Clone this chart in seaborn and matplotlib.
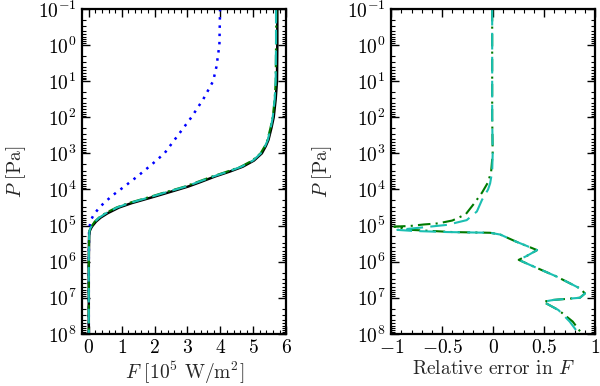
import numpy as np
import pandas as pd
import matplotlib
matplotlib.use("Agg")
import matplotlib.pyplot as plt
import matplotlib.ticker as mticker
import seaborn as sns

# ---- data (log10 P [Pa] and flux / relative error) ----
black_logp = [-1, 0, 1, 1.5, 2, 2.3, 2.63, 2.8, 3.0, 3.2, 3.37, 3.5, 3.64, 3.8, 3.92, 4.1, 4.2, 4.38, 4.5,
              4.66, 4.78, 4.89, 5.0, 5.07, 5.15, 5.3, 6, 7, 8]
black_f = [5.73, 5.73, 5.72, 5.68, 5.62, 5.55, 5.46, 5.38, 5.26, 5.02, 4.68, 4.30, 3.84, 3.38, 3.02, 2.36,
           1.99, 1.30, 0.92, 0.57, 0.36, 0.22, 0.12, 0.07, 0.03, 0.01, 0.0, 0.0, 0.0]

green_logp = [-1, 0, 1, 1.5, 2, 2.3, 2.63, 2.8, 3.0, 3.2, 3.37, 3.5, 3.64, 3.8, 3.92, 4.1, 4.2, 4.38, 4.5,
              4.66, 4.78, 4.89, 5.0, 5.07, 5.15, 5.3, 6, 7, 8]
green_f = [5.70, 5.69, 5.68, 5.65, 5.59, 5.52, 5.43, 5.35, 5.22, 4.97, 4.62, 4.22, 3.76, 3.28, 2.92, 2.24,
           1.88, 1.20, 0.84, 0.50, 0.31, 0.18, 0.10, 0.05, 0.02, 0.01, 0.0, 0.0, 0.0]

cyan_logp = [-1, 0, 1, 1.5, 2, 2.3, 2.63, 2.8, 3.0, 3.2, 3.37, 3.5, 3.64, 3.8, 3.92, 4.1, 4.2, 4.38, 4.5,
             4.66, 4.78, 4.89, 5.0, 5.07, 5.15, 5.3, 6, 7, 8]
cyan_f = [5.69, 5.69, 5.68, 5.65, 5.59, 5.53, 5.44, 5.36, 5.23, 4.99, 4.64, 4.25, 3.79, 3.31, 2.95, 2.27,
          1.91, 1.23, 0.86, 0.52, 0.32, 0.19, 0.10, 0.05, 0.02, 0.01, 0.0, 0.0, 0.0]

blue_logp = [-1, 0, 0.6, 1, 1.5, 2.0, 2.44, 3.0, 3.32, 3.63, 3.92, 4.18, 4.48, 4.7, 4.84, 5.0, 5.1, 6, 7, 8]
blue_f = [3.99, 3.97, 3.88, 3.78, 3.48, 3.12, 2.76, 2.30, 1.90, 1.49, 1.08, 0.70, 0.34, 0.15, 0.07, 0.03,
          0.01, 0.0, 0.0, 0.0]

err_cyan_logp = [-1, 0, 1, 2, 3, 3.5, 3.83, 4.0, 4.29, 4.61, 4.85, 4.98, 5.06, 5.12, 5.15, 5.18, 5.2, 5.25,
                 5.44, 5.68, 5.84, 5.95, 6.09, 6.41, 6.74, 6.88, 7.0, 7.06, 7.11, 7.34, 7.66, 8.0]
err_cyan = [-0.01, -0.01, -0.01, -0.01, -0.005, -0.01, -0.03, -0.05, -0.11, -0.16, -0.26, -0.45, -0.72, -0.94,
            -0.78, -0.45, -0.03, 0.07, 0.22, 0.43, 0.33, 0.25, 0.36, 0.62, 0.85, 0.90, 0.85, 0.59, 0.49,
            0.64, 0.75, 0.84]

err_green_logp = [-1, 0, 1, 2, 3, 3.5, 3.8, 4.09, 4.4, 4.69, 4.86, 4.94, 4.97, 5.01, 5.03, 5.12, 5.18, 5.2, 5.25,
                  5.44, 5.68, 5.84, 5.95, 6.09, 6.41, 6.74, 6.88, 7.0, 7.06, 7.11, 7.34, 7.66, 8.0]
err_green = [-0.01, -0.01, -0.01, -0.01, -0.005, -0.02, -0.05, -0.11, -0.19, -0.27, -0.40, -0.54, -0.68, -0.81,
             -0.97, -0.8, -0.4, -0.03, 0.07, 0.22, 0.43, 0.33, 0.25, 0.36, 0.62, 0.85, 0.90, 0.85, 0.59, 0.49,
             0.64, 0.78, 0.87]

left_xticks = [0, 1, 2, 3, 4, 5, 6]
right_xticks = [-1, -0.5, 0, 0.5, 1]

# ---- style ----
sns.set_style("ticks")
plt.rcParams.update({
    "font.family": "serif",
    "font.serif": ["cmr10", "DejaVu Serif"],
    "mathtext.fontset": "cm",
    "axes.formatter.use_mathtext": True,
    "axes.unicode_minus": False,
    "font.size": 14,
    "axes.labelsize": 14,
    "xtick.labelsize": 14,
    "ytick.labelsize": 14,
    "axes.linewidth": 1.6,
    "xtick.direction": "in",
    "ytick.direction": "in",
    "xtick.top": True,
    "ytick.right": True,
    "xtick.major.size": 6,
    "ytick.major.size": 6,
    "xtick.minor.size": 3,
    "ytick.minor.size": 3,
    "xtick.major.width": 1.0,
    "ytick.major.width": 1.0,
    "xtick.minor.width": 0.8,
    "ytick.minor.width": 0.8,
    "xtick.major.pad": 4,
    "ytick.major.pad": 4,
    "xtick.color": "black",
    "ytick.color": "black",
    "axes.edgecolor": "black",
})

fig = plt.figure(figsize=(6.0, 3.86), dpi=100)
axL = fig.add_axes([0.137, 0.135, 0.340, 0.842])
axR = fig.add_axes([0.652, 0.135, 0.340, 0.842])

BLUE = "#0000ff"
GREEN = "#007a00"
CYAN = "#1bbfb2"


def P(logs):
    return 10.0 ** np.asarray(logs, dtype=float)


def draw(ax, x, logp, color, ls, lw, dashes=None):
    df = pd.DataFrame({"x": x, "P": P(logp)})
    n0 = len(ax.lines)
    sns.lineplot(data=df, x="x", y="P", ax=ax, color=color, linewidth=lw,
                 sort=False, estimator=None, legend=False)
    ln = ax.lines[n0]
    ln.set_linestyle(ls)
    if dashes is not None:
        ln.set_dashes(dashes)


# left panel
draw(axL, blue_f, blue_logp, BLUE, ":", 1.8, dashes=(1, 2.3))
draw(axL, black_f, black_logp, "black", "-", 1.8)
draw(axL, green_f, green_logp, GREEN, "-.", 1.5, dashes=(6, 2, 1, 2))
draw(axL, cyan_f, cyan_logp, CYAN, "--", 1.5, dashes=(7, 3))

# right panel
draw(axR, err_green, err_green_logp, GREEN, "-.", 1.5, dashes=(6, 2.5, 1, 2.5))
draw(axR, err_cyan, err_cyan_logp, CYAN, "--", 1.5, dashes=(8, 3.5))

for ax in (axL, axR):
    ax.set_yscale("log")
    ax.set_ylim(1e8, 1e-1)
    ax.yaxis.set_major_locator(mticker.LogLocator(base=10, numticks=20))
    ax.yaxis.set_minor_locator(mticker.LogLocator(base=10, subs=np.arange(2, 10), numticks=20))
    ax.yaxis.set_major_formatter(mticker.LogFormatterMathtext())
    ax.yaxis.set_minor_formatter(mticker.NullFormatter())
    ax.set_ylabel(r"$P$ [Pa]")
    for s in ax.spines.values():
        s.set_visible(True)
        s.set_linewidth(1.6)
    ax.tick_params(which="both", top=True, right=True, direction="in")

axL.set_xlim(-0.2, 6)
axL.set_xticks(left_xticks)
axL.xaxis.set_minor_locator(mticker.MultipleLocator(0.2))
axL.xaxis.set_major_formatter(mticker.FuncFormatter(lambda v, p: rf"${v:g}$"))
axL.set_xlabel(r"$F$ [$10^5$ W/m$^2$]", labelpad=1.5)

axR.set_xlim(-1, 1)
axR.set_xticks(right_xticks)
axR.xaxis.set_minor_locator(mticker.MultipleLocator(0.1))
axR.xaxis.set_major_formatter(mticker.FuncFormatter(lambda v, p: rf"${v:g}$"))
axR.set_xlabel(r"Relative error in $F$", labelpad=1.5)

axL.yaxis.set_label_coords(-0.265, 0.5)
axR.yaxis.set_label_coords(-0.28, 0.5)

fig.savefig("out.png", dpi=100)
